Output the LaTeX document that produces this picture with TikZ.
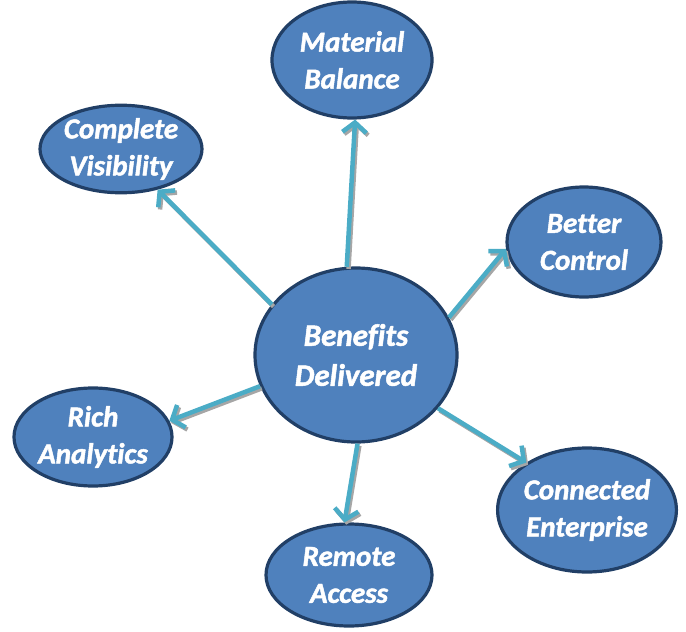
\documentclass[tikz,border=0pt]{standalone}
\usepackage{fontspec}
\setmainfont{Carlito}[Ligatures=NoCommon,BoldFont={Carlito Bold},ItalicFont={Carlito Italic},BoldItalicFont={Carlito Bold Italic},BoldItalicFeatures={FakeBold=1.6}]
\usetikzlibrary{shapes.geometric,arrows.meta}
\definecolor{bfill}{HTML}{4F81BD}
\definecolor{bdraw}{HTML}{213F66}
\definecolor{arr}{HTML}{4BACC6}
\definecolor{shd}{HTML}{A6A6A6}
\tikzset{
  bubble/.style={ellipse, draw=bdraw, fill=bfill, line width=3.2pt, inner sep=0pt,
    text=white, align=center, font=\fontsize{29}{37}\selectfont\bfseries\itshape},
  conn/.style={draw=arr, line width=4.5pt, -{Straight Barb[length=10pt,width=24pt,line width=4.5pt]},
    preaction={draw=shd, line width=4.5pt, -{Straight Barb[length=10pt,width=24pt,line width=4.5pt]},
      transform canvas={shift={(1.8pt,-2.2pt)}}}}
}
\begin{document}
\begin{tikzpicture}[x=1pt,y=-1pt]
\useasboundingbox (0,0) rectangle (686,632);
\node[bubble, minimum width=202pt, minimum height=174pt, font=\fontsize{31}{40}\selectfont\bfseries\itshape] (c) at (356,355) {Benefits\\Delivered};
\node[bubble, minimum width=160pt, minimum height=116pt] (mb) at (352,60) {Material\\Balance};
\node[bubble, minimum width=162pt, minimum height=82pt] (cv) at (121,149) {Complete\\Visibility};
\node[bubble, minimum width=154pt, minimum height=110pt] (bc) at (584,242) {Better\\Control};
\node[bubble, minimum width=158pt, minimum height=98pt] (ra) at (93,437) {Rich\\Analytics};
\node[bubble, minimum width=160pt, minimum height=124pt] (ce) at (587,510) {Connected\\Enterprise};
\node[bubble, minimum width=166pt, minimum height=102pt] (re) at (349,575) {Remote\\Access};
\draw[conn] (c.96) -- (mb.273);
\draw[conn] (c.149) -- (cv.312);
\draw[conn] (c.22) -- (bc.185);
\draw[conn] (c.198) -- (ra.12);
\draw[conn] (c.327) -- (ce.142);
\draw[conn] (c.271) -- (re.95);
\end{tikzpicture}
\end{document}
